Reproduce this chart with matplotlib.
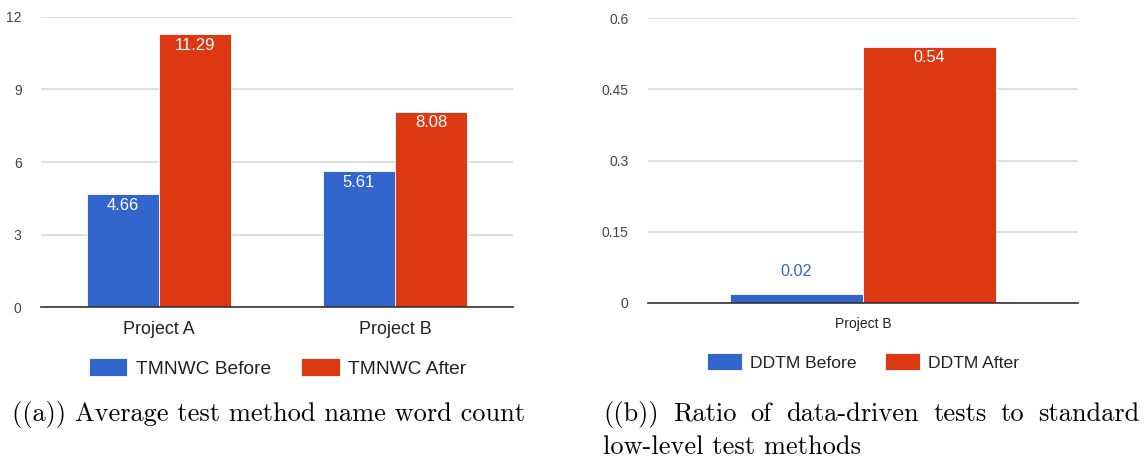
import matplotlib.pyplot as plt
import numpy as np

# Average test method name word count
projects_a = ["Project A", "Project B"]
tmnwc_before = [4.66, 5.61]
tmnwc_after = [11.29, 8.08]

# Ratio of data-driven tests
projects_b = ["Project B"]
ddtm_before = [0.02]
ddtm_after = [0.54]

BLUE = "#3366CC"
RED = "#DC3912"

plt.rcParams['font.family'] = "Liberation Sans"

W, H = 1145, 461
fig = plt.figure(figsize=(W / 100, H / 100), dpi=100)
ax1 = fig.add_axes([41 / W, 1 - 307 / H, 472 / W, 290 / H])
ax2 = fig.add_axes([648 / W, 1 - 303 / H, 430 / W, 285 / H])


def style_axis(ax, ticks, labels, xfont, xpad):
    ax.set_ylim(0, ticks[-1])
    ax.set_yticks(ticks)
    ax.set_yticklabels(labels)
    ax.grid(axis='y', color='#d9d9d9', linewidth=1.2)
    ax.set_axisbelow(True)
    for side in ['top', 'right', 'left']:
        ax.spines[side].set_visible(False)
    ax.spines['bottom'].set_color('#333333')
    ax.spines['bottom'].set_linewidth(1.2)
    ax.tick_params(axis='y', length=0, pad=14, labelsize=10, labelcolor='#444444')
    ax.tick_params(axis='x', length=0, pad=xpad, labelsize=xfont, labelcolor='#222222')


def label_inside(ax, bars, values, size):
    for b, v in zip(bars, values):
        ax.annotate("{:.2f}".format(v), (b.get_x() + b.get_width() / 2, v),
                    xytext=(0, -8), textcoords='offset points',
                    ha='center', va='center', color='white', fontsize=size)


def add_legend(ax, size, anchor):
    leg = ax.legend(loc='center', bbox_to_anchor=anchor, ncol=2, frameon=False,
                    fontsize=size, handlelength=2.0, handleheight=1.05,
                    columnspacing=1.6, handletextpad=0.45)
    for t in leg.get_texts():
        t.set_color('#222222')


# left panel
w = 0.305
x = np.arange(len(projects_a))
b1 = ax1.bar(x - w / 2, tmnwc_before, w, color=BLUE, edgecolor='white', linewidth=0.6, label="TMNWC Before")
b2 = ax1.bar(x + w / 2, tmnwc_after, w, color=RED, edgecolor='white', linewidth=0.6, label="TMNWC After")
ax1.set_xlim(-0.5, 1.5)
ax1.set_xticks(x)
ax1.set_xticklabels(projects_a)
style_axis(ax1, [0, 3, 6, 9, 12], ["0", "3", "6", "9", "12"], 12.9, 10)
label_inside(ax1, b1, tmnwc_before, 12)
label_inside(ax1, b2, tmnwc_after, 12)
add_legend(ax1, 13.8, (0.501, -0.21))

# right panel
w2 = 0.309
x2 = np.arange(len(projects_b))
c1 = ax2.bar(x2 - w2 / 2, ddtm_before, w2, color=BLUE, edgecolor='white', linewidth=0.6, label="DDTM Before")
c2 = ax2.bar(x2 + w2 / 2, ddtm_after, w2, color=RED, edgecolor='white', linewidth=0.6, label="DDTM After")
ax2.set_xlim(-0.5, 0.5)
ax2.set_xticks(x2)
ax2.set_xticklabels(projects_b)
style_axis(ax2, [0, 0.15, 0.3, 0.45, 0.6], ["0", "0.15", "0.3", "0.45", "0.6"], 10, 10)
for b, v in zip(c1, ddtm_before):
    ax2.annotate("{:.2f}".format(v), (b.get_x() + b.get_width() / 2, v),
                 xytext=(0, 16), textcoords='offset points',
                 ha='center', va='center', color=BLUE, fontsize=11.7)
label_inside(ax2, c2, ddtm_after, 11.7)
add_legend(ax2, 12.6, (0.5, -0.207))

# captions (serif, first line of (b) justified)
cap = dict(fontsize=19.0, family='cmr10', color='black', va='center')
fig.text(12 / W, 1 - 414 / H, "((a)) Average test method name word count", **cap)
fig.text(603 / W, 1 - 447 / H, "low-level test methods", **cap)

words = "((b)) Ratio of data-driven tests to standard".split()
renderer = fig.canvas.get_renderer()
parts = [fig.text(0, 1 - 414 / H, wd, **cap) for wd in words]
widths = [p.get_window_extent(renderer).width for p in parts]
x_left, x_right = 603, 1140
gap = (x_right - x_left - sum(widths)) / (len(words) - 1)
pos = x_left
for p, wd in zip(parts, widths):
    p.set_x(pos / W)
    pos += wd + gap

fig.savefig("out.png", dpi=100)
